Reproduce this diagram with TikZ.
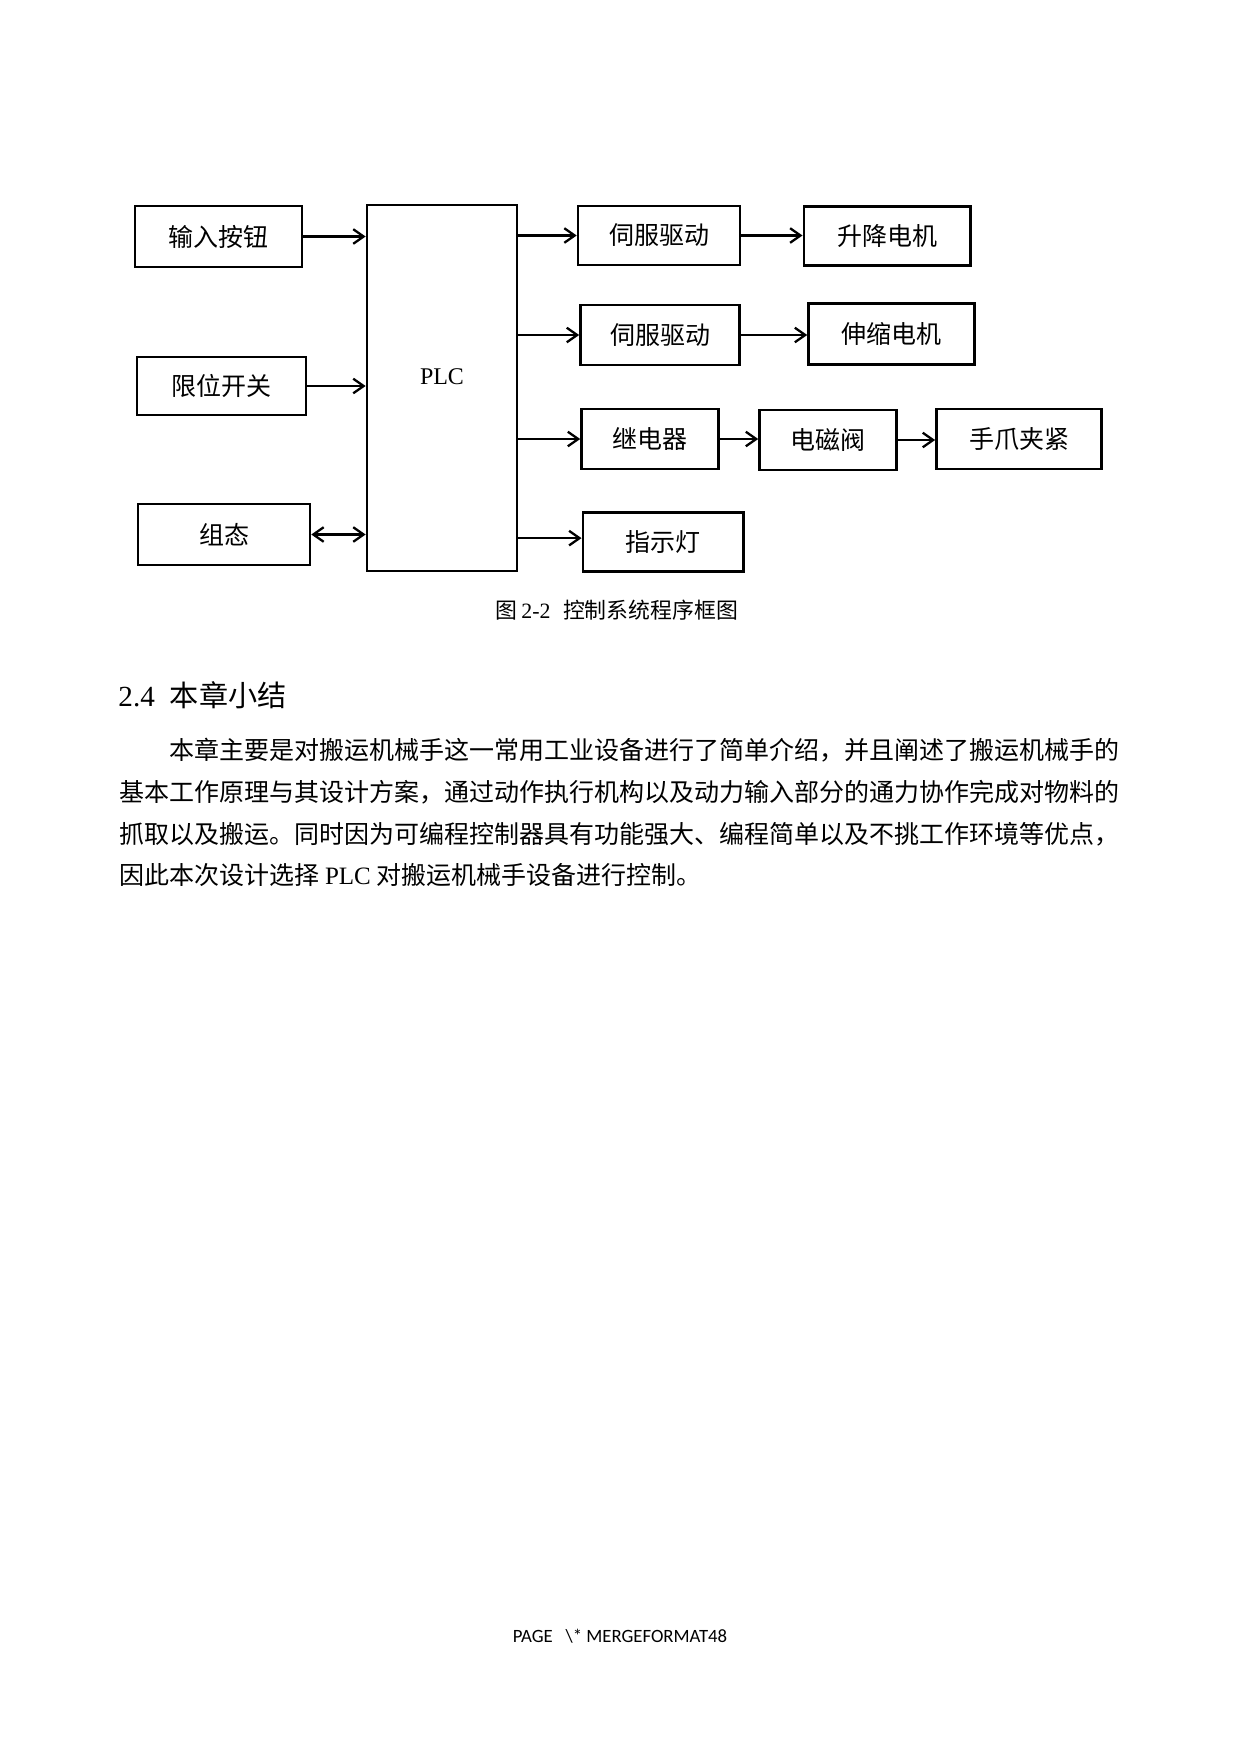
\documentclass[tikz,border=0pt]{standalone}
\usepackage{fontspec}
\setmainfont{Liberation Serif}
\newfontfamily\cjk{Noto Sans CJK SC}
\newfontfamily\pagefont{Carlito}
\usetikzlibrary{arrows.meta}

\begin{document}
\begin{tikzpicture}[x=0.48pt, y=-0.48pt, >={Straight Barb[length=5pt,width=7pt]},
  blk/.style={draw, line width=1.3pt, inner sep=0pt, font=\cjk\fontsize{12}{14}\selectfont},
  conn/.style={line width=1.1pt, ->},
  body/.style={anchor=west, inner sep=0pt, font=\cjk\fontsize{12}{14}\selectfont}]
\useasboundingbox[fill=white] (0,0) rectangle (1240,1754);
\node[blk, minimum width=80.1pt, minimum height=29.2pt] (btn) at (218.5,236.5) {输入按钮};
\node[blk, minimum width=81.1pt, minimum height=27.8pt] (lim) at (221.5,386) {限位开关};
\node[blk, minimum width=82.5pt, minimum height=29.2pt] (cfg) at (224,534.5) {组态};
\node[blk, minimum width=72pt, minimum height=175.6pt,
  label={[yshift=5.3pt, font=\fontsize{11.5}{14}\selectfont]center:PLC}] (plc) at (442,388) {};
\node[blk, minimum width=77.7pt, minimum height=28.3pt] (srvA) at (659,235.5) {伺服驱动};
\node[blk, minimum width=80.1pt, minimum height=28.3pt] (lift) at (887.3,236) {升降电机};
\node[blk, minimum width=76.3pt, minimum height=28.8pt] (srvB) at (660,335) {伺服驱动};
\node[blk, minimum width=79.6pt, minimum height=29.2pt] (tele) at (891.5,334) {伸缩电机};
\node[blk, minimum width=65.7pt, minimum height=28.8pt] (rel) at (650,439) {继电器};
\node[blk, minimum width=65.7pt, minimum height=28.8pt] (sol) at (828,440) {电磁阀};
\node[blk, minimum width=79.2pt, minimum height=28.8pt] (grip) at (1019,439) {手爪夹紧};
\node[blk, minimum width=77.2pt, minimum height=28.3pt] (lamp) at (663.3,542.3) {指示灯};
\draw[conn] (btn) -- (btn -| plc.west);
\draw[conn] (lim) -- (lim -| plc.west);
\draw[conn, <->] (cfg) -- (cfg -| plc.west);
\draw[conn] (plc.east |- srvA) -- (srvA);
\draw[conn] (plc.east |- srvB) -- (srvB);
\draw[conn] (plc.east |- rel) -- (rel);
\draw[conn] ([yshift=2pt]plc.east |- lamp) -- ([yshift=2pt]lamp.west);
\draw[conn] (srvA) -- (srvA -| lift.west);
\draw[conn] (srvB) -- (srvB -| tele.west);
\draw[conn] (rel) -- (rel -| sol.west);
\draw[conn] (sol) -- (sol -| grip.west);
\node[font=\fontsize{10.5}{12}\selectfont] (cap) at (617,610) {{\cjk 图}\,2-2\hspace{6pt}{\cjk 控制系统程序框图}};
\node[body, font=\fontsize{14}{16}\selectfont] (head) at (118,695) {2.4\hspace{7.2pt}{\cjk 本章小结}};
\node[body] (ln1) at (169,750) {本章主要是对搬运机械手这一常用工业设备进行了简单介绍，并且阐述了搬运机械手的};
\node[body] (ln2) at (119,792) {基本工作原理与其设计方案，通过动作执行机构以及动力输入部分的通力协作完成对物料的};
\node[body] (ln3) at (119,834) {抓取以及搬运。同时因为可编程控制器具有功能强大、编程简单以及不挑工作环境等优点，};
\node[body] (ln4) at (119,875) {因此本次设计选择 {\rmfamily PLC} 对搬运机械手设备进行控制。};
\node[font=\pagefont\fontsize{9}{11}\selectfont] (pg) at (620,1636) {PAGE\ \ \ \textbackslash* MERGEFORMAT48};
\end{tikzpicture}
\end{document}
